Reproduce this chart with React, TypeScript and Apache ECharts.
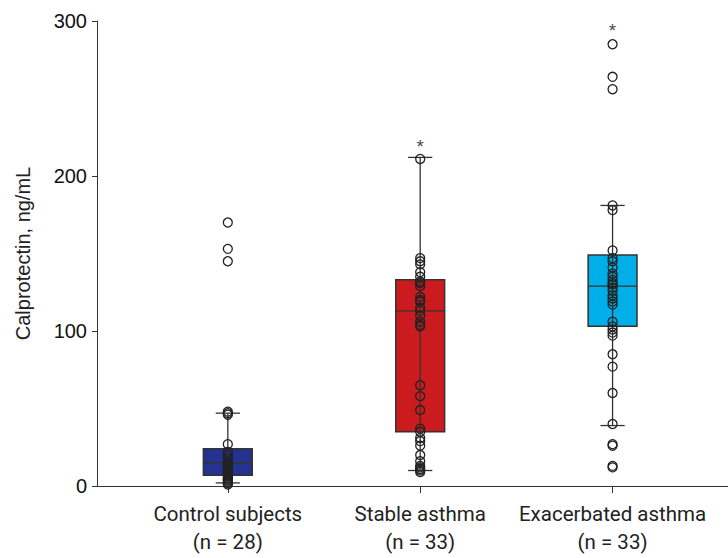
import React, { useEffect, useRef } from "react";
import * as echarts from "echarts";

const categories = ["Control subjects\n(n = 28)", "Stable asthma\n(n = 33)", "Exacerbated asthma\n(n = 33)"];
const groupPos = [1, 2, 3];
// [lower whisker, Q1, median, Q3, upper whisker]
const boxStats = [
  [2, 7, 15, 24, 47],
  [10, 35, 113, 133, 212],
  [39, 103, 129, 149, 181],
];
const boxColors = ["#23338f", "#cc1b1f", "#00aee8"];
const controlPoints = [170, 153, 145, 48, 47, 46, 27, 22, 20, 18, 16, 15, 14, 13, 12, 11, 10, 9, 8, 7, 6, 5, 4, 4, 3, 2, 2, 1];
const stablePoints = [211, 147, 145, 143, 138, 135, 132, 131, 129, 122, 120, 119, 115, 113, 110, 106, 104, 103, 65, 58, 49, 37, 35, 31, 29, 26, 20, 16, 12, 10, 9, 11, 13];
const exacerbatedPoints = [285, 264, 256, 181, 178, 152, 147, 145, 141, 137, 135, 133, 131, 130, 128, 126, 123, 121, 119, 117, 106, 103, 101, 99, 97, 85, 77, 60, 40, 27, 26, 13, 12];
const asteriskGroups = [2, 3];
const asteriskValues = [219, 294];
const yTicks = [0, 100, 200, 300];

export default function App() {
  const ref = useRef<HTMLDivElement>(null);
  useEffect(() => {
    document.body.style.margin = "0";
    const chart = echarts.init(ref.current!, null, { renderer: "svg" });
    const pointsAll = [controlPoints, stablePoints, exacerbatedPoints];
    const scatterData: number[][] = [];
    pointsAll.forEach((arr, gi) => arr.forEach((v) => scatterData.push([groupPos[gi], v])));
    const boxData = boxStats.map((s, i) => [groupPos[i], ...s, i]);
    const halfBox = 0.127;
    const halfCap = 0.063;
    chart.setOption({
      animation: false,
      grid: { left: 97, right: 0, top: 21, bottom: 72 },
      xAxis: {
        type: "value",
        min: 0.32,
        max: 3.6,
        splitLine: { show: false },
        axisLine: { show: true, lineStyle: { color: "#333", width: 1 } },
        axisTick: { show: true, length: 7, customValues: groupPos, lineStyle: { color: "#333" } },
        axisLabel: {
          customValues: groupPos,
          formatter: (v: number) => categories[Math.round(v) - 1] ?? "",
          color: "#222",
          fontSize: 20.5,
          fontFamily: "Roboto",
          lineHeight: 28,
          margin: 14,
        },
      },
      yAxis: {
        type: "value",
        min: 0,
        max: 300,
        interval: 100,
        name: "Calprotectin, ng/mL",
        nameLocation: "middle",
        nameGap: 64,
        nameTextStyle: { fontSize: 20, color: "#222", fontFamily: "Liberation Sans" },
        splitLine: { show: false },
        axisLine: { show: true, lineStyle: { color: "#333", width: 1 } },
        axisTick: { show: true, length: 5, lineStyle: { color: "#333" } },
        axisLabel: {
          customValues: yTicks,
          color: "#111",
          fontSize: 20,
          fontFamily: "Liberation Sans",
          margin: 10,
        },
      },
      series: [
        {
          type: "custom",
          data: boxData,
          encode: { x: 0, y: [1, 2, 3, 4, 5] },
          z: 2,
          renderItem: (params: any, api: any) => {
            const x = api.value(0);
            const lo = api.value(1), q1 = api.value(2), med = api.value(3), q3 = api.value(4), hi = api.value(5);
            const ci = api.value(6);
            const pL = api.coord([x - halfBox, q3]);
            const pR = api.coord([x + halfBox, q1]);
            const c = api.coord([x, med]);
            const cl = api.coord([x - halfCap, 0])[0];
            const cr = api.coord([x + halfCap, 0])[0];
            const yLo = api.coord([x, lo])[1];
            const yHi = api.coord([x, hi])[1];
            const lineStyle = { stroke: "#333", lineWidth: 1.3 };
            return {
              type: "group",
              children: [
                {
                  type: "rect",
                  shape: { x: pL[0], y: pL[1], width: pR[0] - pL[0], height: pR[1] - pL[1] },
                  style: { fill: boxColors[ci], stroke: "#333", lineWidth: 1.5 },
                },
                { type: "line", shape: { x1: c[0], y1: yHi, x2: c[0], y2: yLo }, style: lineStyle },
                { type: "line", shape: { x1: pL[0], y1: c[1], x2: pR[0], y2: c[1] }, style: lineStyle },
                { type: "line", shape: { x1: cl, y1: yHi, x2: cr, y2: yHi }, style: lineStyle },
                { type: "line", shape: { x1: cl, y1: yLo, x2: cr, y2: yLo }, style: lineStyle },
              ],
            };
          },
        },
        {
          type: "scatter",
          data: scatterData,
          symbol: "circle",
          symbolSize: 9,
          z: 3,
          itemStyle: { color: "rgba(0,0,0,0)", borderColor: "#222", borderWidth: 1.3, opacity: 1 },
        },
        {
          type: "scatter",
          data: asteriskGroups.map((g, i) => [g, asteriskValues[i]]),
          symbolSize: 0,
          z: 4,
          label: { show: true, formatter: "*", position: "inside", fontSize: 19, color: "#111", fontFamily: "Liberation Sans" },
        },
      ],
    });
    return () => chart.dispose();
  }, []);
  return <div ref={ref} style={{ width: 728, height: 558 }} />;
}
